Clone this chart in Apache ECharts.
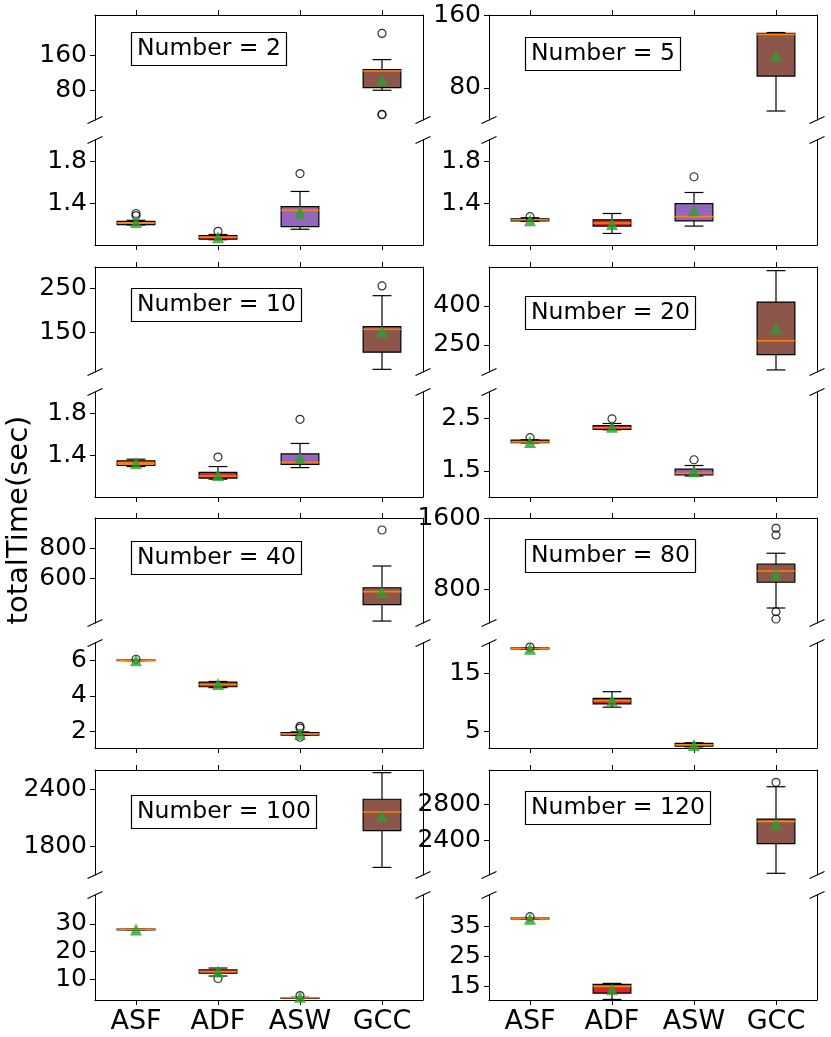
<!DOCTYPE html>
<html>
<head>
<meta charset="utf-8">
<script src="https://cdn.jsdelivr.net/npm/echarts@6/dist/echarts.min.js"></script>
<style>html,body{margin:0;padding:0;background:#fff;} #main{width:831px;height:1037px;}</style>
</head>
<body>
<div id="main"></div>
<script>
var categories = ['ASF', 'ADF', 'ASW', 'GCC'];
var boxColors = ['#ff7f0e', '#d62728', '#9467bd', '#8c564b'];
var numbers = [2, 5, 10, 20, 40, 80, 100, 120];

// upper (broken) axis and lower axis ranges, per panel
var highMin = [12, 44.6, 60, 146, 302, 420, 1495, 2011];
var highMax = [252, 160.3, 298, 550, 1002, 1603, 2600, 3178];
var lowMin = [1.0, 1.0, 1.0, 1.0, 1.05, 2.2, 2.4, 10.3];
var lowMax = [2.0, 2.0, 2.0, 3.0, 7.0, 20.2, 40.5, 45.7];
var highTicks = [[80, 160], [80, 160], [150, 250], [250, 400], [600, 800], [800, 1600], [1800, 2400], [2400, 2800]];
var lowTicks = [[1.4, 1.8], [1.4, 1.8], [1.4, 1.8], [1.5, 2.5], [2, 4, 6], [5, 15], [10, 20, 30], [15, 25, 35]];

// [category, lower whisker, Q1, median, Q3, upper whisker]
var box2 = [[0, 1.19, 1.195, 1.21, 1.225, 1.235], [1, 1.05, 1.055, 1.075, 1.09, 1.10], [2, 1.15, 1.175, 1.33, 1.365, 1.51], [3, 80, 86, 124, 127, 150]];
var mean2 = [[0, 1.22], [1, 1.075], [2, 1.31], [3, 103]];
var flier2 = [[0, 1.30], [0, 1.28], [1, 1.13], [2, 1.68], [3, 210], [3, 24], [3, 25]];

var box5 = [[0, 1.225, 1.23, 1.24, 1.25, 1.26], [1, 1.11, 1.18, 1.21, 1.24, 1.30], [2, 1.18, 1.23, 1.27, 1.395, 1.50], [3, 54.5, 93, 139, 140, 141]];
var mean5 = [[0, 1.235], [1, 1.20], [2, 1.33], [3, 115]];
var flier5 = [[0, 1.27], [2, 1.65]];

var box10 = [[0, 1.29, 1.30, 1.32, 1.345, 1.36], [1, 1.17, 1.18, 1.20, 1.235, 1.29], [2, 1.28, 1.31, 1.33, 1.41, 1.51], [3, 66, 105, 157, 163, 233]];
var mean10 = [[0, 1.325], [1, 1.21], [2, 1.37], [3, 151]];
var flier10 = [[1, 1.38], [2, 1.74], [3, 255]];

var box20 = [[0, 2.03, 2.035, 2.05, 2.085, 2.09], [1, 2.28, 2.29, 2.32, 2.36, 2.40], [2, 1.40, 1.42, 1.45, 1.53, 1.60], [3, 154, 213, 266, 415, 536]];
var mean20 = [[0, 2.05], [1, 2.34], [2, 1.49], [3, 314]];
var flier20 = [[0, 2.13], [1, 2.49], [2, 1.71]];

var box40 = [[0, 6.0, 6.01, 6.03, 6.05, 6.06], [1, 4.47, 4.52, 4.65, 4.78, 4.82], [2, 1.76, 1.78, 1.85, 1.92, 1.96], [3, 315, 424, 511, 537, 682]];
var mean40 = [[0, 6.02], [1, 4.68], [2, 1.85], [3, 507]];
var flier40 = [[0, 6.08], [2, 2.28], [2, 2.18], [2, 1.66], [3, 922]];

var box80 = [[0, 19.2, 19.25, 19.3, 19.35, 19.4], [1, 9.2, 9.75, 10.3, 10.7, 11.85], [2, 2.4, 2.5, 2.75, 3.0, 3.1], [3, 589, 879, 1006, 1085, 1206]];
var mean80 = [[0, 19.2], [1, 10.4], [2, 2.7], [3, 969]];
var flier80 = [[0, 19.5], [3, 1487], [3, 1412], [3, 548], [3, 465]];

var box100 = [[0, 27.9, 28.0, 28.1, 28.2, 28.3], [1, 11.1, 12.1, 12.7, 13.3, 14.0], [2, 3.0, 3.1, 3.2, 3.3, 3.4], [3, 1575, 1961, 2158, 2292, 2572]];
var mean100 = [[0, 28], [1, 12.7], [2, 3.6], [3, 2116]];
var flier100 = [[1, 10.2], [2, 4.0]];

var box120 = [[0, 37.7, 37.8, 37.9, 38.0, 38.1], [1, 10.5, 12.6, 14.9, 15.6, 15.9], [3, 2030, 2359, 2607, 2633, 2992]];
var mean120 = [[0, 37.7], [1, 13.9], [3, 2574]];
var flier120 = [[0, 38.4], [3, 3041]];

var boxes = [box2, box5, box10, box20, box40, box80, box100, box120];
var means = [mean2, mean5, mean10, mean20, mean40, mean80, mean100, mean120];
var fliers = [flier2, flier5, flier10, flier20, flier40, flier80, flier100, flier120];

var font = 'DejaVu Sans';
var colLeft = [95, 489];
var plotW = 328;
var rowTop = [15, 267, 518, 770];
var panelH = 105;
var lowOffset = 125;

function renderBox(params, api) {
    var c = api.value(0);
    var lo = api.coord([c, api.value(1)]);
    var q1 = api.coord([c, api.value(2)]);
    var md = api.coord([c, api.value(3)]);
    var q3 = api.coord([c, api.value(4)]);
    var hi = api.coord([c, api.value(5)]);
    var band = api.size([1, 0])[0];
    var hw = band * 0.23, cw = hw / 2, x = md[0];
    var ink = {stroke: '#000', lineWidth: 1.2};
    return {
        type: 'group',
        children: [
            {type: 'line', shape: {x1: x, y1: q3[1], x2: x, y2: hi[1]}, style: ink},
            {type: 'line', shape: {x1: x, y1: q1[1], x2: x, y2: lo[1]}, style: ink},
            {type: 'line', shape: {x1: x - cw, y1: hi[1], x2: x + cw, y2: hi[1]}, style: ink},
            {type: 'line', shape: {x1: x - cw, y1: lo[1], x2: x + cw, y2: lo[1]}, style: ink},
            {type: 'rect', shape: {x: x - hw, y: q3[1], width: 2 * hw, height: Math.max(q1[1] - q3[1], 1)},
             style: {fill: boxColors[c], stroke: '#000', lineWidth: 1.2}},
            {type: 'line', shape: {x1: x - hw, y1: md[1], x2: x + hw, y2: md[1]}, style: {stroke: '#ff7f0e', lineWidth: 1.6}}
        ]
    };
}

var grids = [], xAxes = [], yAxes = [], series = [], titles = [], graphics = [];

var titlePos = [[131, 32], [525, 37], [131, 288], [525, 296], [131, 541], [525, 539], [131, 795], [525, 791]];

numbers.forEach(function (n, i) {
    var col = i % 2, row = Math.floor(i / 2);
    var left = colLeft[col];
    var parts = [
        {top: rowTop[row], min: highMin[i], max: highMax[i], ticks: highTicks[i], high: true},
        {top: rowTop[row] + lowOffset, min: lowMin[i], max: lowMax[i], ticks: lowTicks[i], high: false}
    ];
    parts.forEach(function (p) {
        var g = grids.length;
        grids.push({left: left, top: p.top, width: plotW, height: panelH});
        xAxes.push({
            type: 'category', gridIndex: g, data: categories,
            position: p.high ? 'top' : 'bottom',
            axisLine: {show: true, lineStyle: {color: '#000', width: 1}},
            axisTick: {show: true, alignWithLabel: true, length: 5, lineStyle: {color: '#000'}},
            axisLabel: {show: !p.high && row === 3, interval: 0, fontSize: 27, color: '#000', fontFamily: font, margin: 8}
        });
        var yl = yAxes.length;
        yAxes.push({
            type: 'value', gridIndex: g, min: p.min, max: p.max, position: 'left',
            axisLine: {show: true, lineStyle: {color: '#000', width: 1}},
            axisTick: {show: true, length: 5, customValues: p.ticks, lineStyle: {color: '#000'}},
            axisLabel: {show: true, customValues: p.ticks, fontSize: 25, color: '#000', fontFamily: font, margin: 8,
                        formatter: function (v) { return String(v); }},
            splitLine: {show: false}
        });
        yAxes.push({
            type: 'value', gridIndex: g, min: p.min, max: p.max, position: 'right',
            axisLine: {show: true, lineStyle: {color: '#000', width: 1}},
            axisTick: {show: false}, axisLabel: {show: false}, splitLine: {show: false}
        });
        var inHigh = function (v) { return v >= highMin[i]; };
        var pick = function (v) { return p.high ? inHigh(v) : !inHigh(v); };
        series.push({
            type: 'custom', xAxisIndex: g, yAxisIndex: yl, renderItem: renderBox, z: 2,
            encode: {x: 0, y: [1, 2, 3, 4, 5]},
            data: boxes[i].filter(function (b) { return pick(b[3]); })
        });
        series.push({
            type: 'scatter', xAxisIndex: g, yAxisIndex: yl, symbol: 'circle', symbolSize: 8, z: 3,
            itemStyle: {color: 'rgba(0,0,0,0)', borderColor: '#000', borderWidth: 1.2},
            data: fliers[i].filter(function (f) { return pick(f[1]); })
        });
        series.push({
            type: 'scatter', xAxisIndex: g, yAxisIndex: yl, symbol: 'triangle', symbolSize: 12, z: 4,
            itemStyle: {color: '#2ca02c'},
            data: means[i].filter(function (m) { return pick(m[1]); })
        });
    });

    // break marks on both spines
    var yb = rowTop[row] + panelH, yt = rowTop[row] + lowOffset;
    [left, left + plotW].forEach(function (x) {
        [yb, yt].forEach(function (y) {
            graphics.push({type: 'line', silent: true, z: 10,
                shape: {x1: x - 7.5, y1: y + 3.5, x2: x + 7.5, y2: y - 3.5},
                style: {stroke: '#000', lineWidth: 1.1}});
        });
    });

    titles.push({
        text: 'Number = ' + n, left: titlePos[i][0], top: titlePos[i][1],
        padding: [5, 6], borderColor: '#000', borderWidth: 1.2, backgroundColor: '#fff',
        textStyle: {fontSize: 23.5, fontWeight: 'normal', color: '#000', fontFamily: font}
    });
});

graphics.push({
    type: 'text', x: 19, y: 520, rotation: Math.PI / 2,
    style: {text: 'totalTime(sec)', fontSize: 29, fontFamily: font, fill: '#000', align: 'center', verticalAlign: 'middle'}
});

var chart = echarts.init(document.getElementById('main'));
chart.setOption({
    animation: false,
    title: titles,
    grid: grids,
    xAxis: xAxes,
    yAxis: yAxes,
    series: series,
    graphic: graphics
});
</script>
</body>
</html>
